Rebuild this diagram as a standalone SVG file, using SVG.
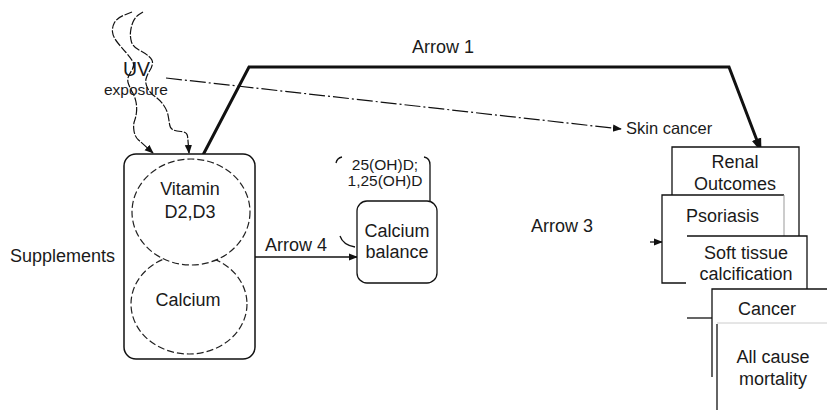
<svg xmlns="http://www.w3.org/2000/svg" width="827" height="410" viewBox="0 0 827 410">
<defs>
<style>
text{font-family:"Liberation Sans",Arial,sans-serif;fill:#1a1a1a;font-size:18px}
.c{text-anchor:middle}
.ln{fill:none;stroke:#111;stroke-width:1.3}
.dash{fill:none;stroke:#111;stroke-width:1.2;stroke-dasharray:8 1.6}
.ell{fill:#fff;stroke:#222;stroke-width:1.2;stroke-dasharray:7 3}
.box{fill:#fff;stroke:none}
</style>
<marker id="ah" viewBox="0 0 10 10" refX="9" refY="5" markerWidth="9" markerHeight="9" markerUnits="userSpaceOnUse" orient="auto"><path d="M0,1 L10,5 L0,9 Z" fill="#111"/></marker>
<marker id="ahb" viewBox="0 0 10 10" refX="9" refY="5" markerWidth="14" markerHeight="14" markerUnits="userSpaceOnUse" orient="auto"><path d="M0,1.5 L10,5 L0,8.5 Z" fill="#111"/></marker>
</defs>

<g id="connectors">
<path class="dash" d="M132,12 L124.5,15 Q117,18 114.5,22.5 Q112,27 112.5,32 Q113,37 117.5,42.5 Q122,48 126,52.5 Q130,57 132.5,61 Q135,65 132.5,69 Q130,73 128.5,76.5 Q127,80 128.5,84 Q130,88 132.5,92.5 Q135,97 136,102 Q137,107 136.5,112 Q136,117 134.5,121 Q133,125 134,131 Q135,137 138.5,140 Q142,143 147.5,148 L153,153" marker-end="url(#ah)"/>
<path class="dash" d="M143,12 L139,14.5 Q135,17 133,22 Q131,27 130.5,32 Q130,37 131.5,42 Q133,47 139,50 Q145,53 149,56.5 Q153,60 152.5,63.5 Q152,67 149.5,71 Q147,75 146,79 Q145,83 147.5,88 Q150,93 155,96.5 Q160,100 163.5,105 Q167,110 168,115 Q169,120 169.5,124 Q170,128 172.5,129.5 Q175,131 181,131.5 Q187,132 187.5,136 Q188,140 189,153" marker-end="url(#ah)"/>
<path d="M166,78 L621,129" fill="none" stroke="#111" stroke-width="1.2" stroke-dasharray="16 3 2 3" marker-end="url(#ah)"/>
<path d="M203,155 L249,67 L729,67 L761,151" fill="none" stroke="#111" stroke-width="3" stroke-linejoin="miter" marker-end="url(#ahb)"/>
<path class="ln" d="M255,257 L357,257" marker-end="url(#ah)"/>
<path class="ln" d="M650,242 L662,242" marker-end="url(#ah)"/>
<text x="443" y="53" class="c">Arrow 1</text>
<text x="296" y="251" class="c">Arrow 4</text>
<text x="562" y="232" class="c">Arrow 3</text>
</g>

<g id="uv">
<text x="123" y="76" style="font-size:19.5px">UV</text>
<text x="104" y="95" style="font-size:15.5px">exposure</text>
</g>

<g id="supplements">
<text x="10" y="262">Supplements</text>
<rect x="124" y="154" width="131" height="205" rx="12" fill="#fff" stroke="#111" stroke-width="1.5"/>
<ellipse cx="189" cy="304" rx="58" ry="50" class="ell"/>
<ellipse cx="191" cy="212" rx="59" ry="53" class="ell"/>
<text x="190" y="195" class="c">Vitamin</text>
<text x="190" y="218" class="c">D2,D3</text>
<text x="188" y="306" class="c">Calcium</text>
</g>

<g id="calcium-balance">
<path class="ln" d="M336,163 Q337,158 342,157"/>
<path class="ln" d="M424,157 Q430,158 430,165 L430,201"/>
<path class="ln" d="M340,236 Q343,245 355,247"/>
<text x="385" y="170" class="c" style="font-size:15.5px">25(OH)D;</text>
<text x="385" y="186" class="c" style="font-size:15.5px">1,25(OH)D</text>
<rect x="357" y="201" width="80" height="82" rx="10" fill="#fff" stroke="#111" stroke-width="1.3"/>
<text x="397" y="237" class="c">Calcium</text>
<text x="397" y="258" class="c">balance</text>
</g>

<g id="skin-cancer">
<text x="626" y="134" style="font-size:16.5px">Skin cancer</text>
</g>

<g id="renal">
<rect x="672" y="147" width="127" height="110" class="box"/>
<path class="ln" d="M672,196 L672,147 L799,147 L799,237"/>
<text x="735" y="168" class="c">Renal</text>
<text x="735" y="190" class="c">Outcomes</text>
</g>

<g id="psoriasis">
<rect x="662" y="195" width="122" height="88" class="box"/>
<path class="ln" d="M686,283 L662,283 L662,195 L784,195"/>
<path d="M784,195 L784,237" fill="none" stroke="#999" stroke-width="1"/>
<text x="686" y="222">Psoriasis</text>
</g>

<g id="soft-tissue">
<rect x="687" y="236" width="120" height="82" class="box"/>
<path class="ln" d="M687,236 L807,236 L807,289"/>
<path class="ln" d="M687,318 L712,318"/>
<text x="746" y="259" class="c">Soft tissue</text>
<text x="746" y="280" class="c">calcification</text>
</g>

<g id="cancer">
<rect x="712" y="289" width="115" height="88" class="box"/>
<path class="ln" d="M712,377 L712,289 L827,289"/>
<text x="767" y="315" class="c">Cancer</text>
</g>

<g id="mortality">
<path d="M717,323 L827,323" fill="none" stroke="#ccc" stroke-width="1"/>
<path class="ln" d="M717,324 L717,410"/>
<text x="773" y="363" class="c">All cause</text>
<text x="773" y="385" class="c">mortality</text>
</g>
</svg>
